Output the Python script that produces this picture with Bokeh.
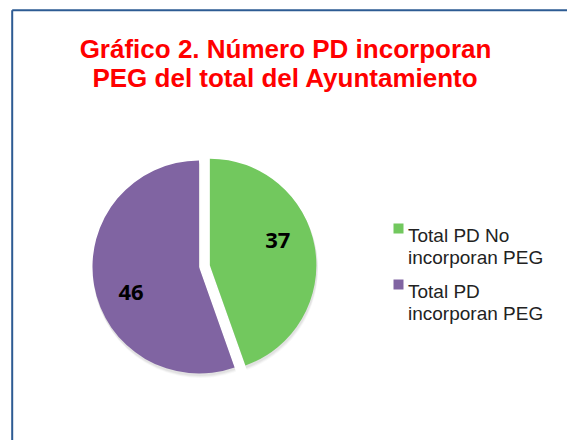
import math
from bokeh.plotting import figure
from bokeh.models import Range1d
from bokeh.core.properties import value
from bokeh.embed import file_html
from bokeh.resources import INLINE

# ---- data ----
title_lines = ["Gráfico 2. Número PD incorporan", "PEG del total del Ayuntamiento"]
categories = ["Total PD No\nincorporan PEG", "Total PD\nincorporan PEG"]
values = [37, 46]
colors = ["#72C85E", "#8064A2"]
exploded = [True, False]

# ---- layout (image pixel coordinates, y down) ----
W, H = 567, 440
OX, OY = 0, 0
def Y(y_img):
    return (OY + H) - y_img

p = figure(width=W, height=H, output_backend="svg", toolbar_location=None,
           x_range=Range1d(OX, OX + W), y_range=Range1d(0, H),
           x_axis_location=None, y_axis_location=None, min_border=0,
           background_fill_color="white", border_fill_color="white")
p.grid.visible = False
p.outline_line_color = None

# chart border (left & top visible)
border = "#2D5B93"
p.line([11.7, 11.7], [Y(H), Y(9.7)], line_color=border, line_width=2)
p.line([11.7, W], [Y(9.7), Y(9.7)], line_color=border, line_width=2)

# title
for i, t in enumerate(title_lines):
    p.text(x=[285], y=[Y(48.3 + i * 29.4)], text=[t], text_font=value("Liberation Sans"),
           text_font_style="bold", text_font_size="26px", text_color="#FF0000",
           text_align="center", text_baseline="alphabetic")

# pie
cx, cy, r = 198.5, Y(266.5), 106.5
explode_px = 11
total = sum(values)
start = 90.0
label_r = 0.68
label_rot = 10.5
for v, c, ex, in zip(values, colors, exploded):
    sweep = 360.0 * v / total
    a0, a1 = start - sweep, start
    mid = math.radians((a0 + a1) / 2)
    dx = explode_px * math.cos(mid) if ex else 0
    dy = explode_px * math.sin(mid) if ex else 0
    # soft shadow
    for k, al in [(4, 0.06), (3, 0.08), (2, 0.10)]:
        p.wedge(x=cx + dx + k * 0.3, y=cy + dy - k, radius=r + 0.5,
                start_angle=math.radians(a0), end_angle=math.radians(a1),
                fill_color="#808080", fill_alpha=al, line_color=None)
    p.wedge(x=cx + dx, y=cy + dy, radius=r,
            start_angle=math.radians(a0), end_angle=math.radians(a1),
            fill_color=c, line_color=None)
    la = math.radians((a0 + a1) / 2 + label_rot)
    lx = cx + dx + label_r * r * math.cos(la)
    ly = cy + dy + label_r * r * math.sin(la)
    p.text(x=[lx], y=[ly], text=[str(v)], text_font=value("Open Sans"),
           text_font_style="bold", text_font_size="22px", text_color="#000000",
           text_align="center", text_baseline="middle")
    start = a0

# legend
leg_x, leg_y0, leg_step, line_step = 398, 228, 56, 22
for i, (cat, c) in enumerate(zip(categories, colors)):
    yy = leg_y0 + i * leg_step
    p.rect(x=[leg_x], y=[Y(yy)], width=10, height=10, fill_color=c, line_color=None)
    for j, ln in enumerate(cat.split("\n")):
        p.text(x=[407.5], y=[Y(yy + 7 + j * line_step)], text=[ln],
               text_font=value("Liberation Sans"), text_font_size="19px",
               text_color="#222222", text_align="left", text_baseline="alphabetic")

open("out.html", "w").write(file_html(p, INLINE))
